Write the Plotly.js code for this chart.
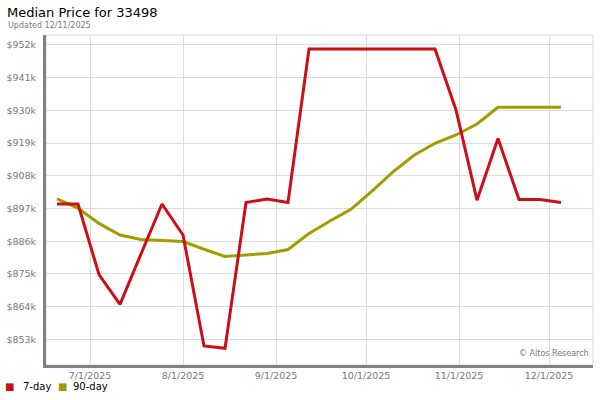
<!DOCTYPE html>
<html>
<head>
<meta charset="utf-8">
<script src="https://cdn.plot.ly/plotly-3.0.1.min.js"></script>
<style>html,body{margin:0;padding:0;background:#fff;}#chart{width:600px;height:400px;}</style>
</head>
<body>
<div id="chart"></div>
<script>
// Weekly dates (Fridays)
const dates = ["2025-06-20","2025-06-27","2025-07-04","2025-07-11","2025-07-18","2025-07-25","2025-08-01","2025-08-08","2025-08-15","2025-08-22","2025-08-29","2025-09-05","2025-09-12","2025-09-19","2025-09-26","2025-10-03","2025-10-10","2025-10-17","2025-10-24","2025-10-31","2025-11-07","2025-11-14","2025-11-21","2025-11-28","2025-12-05"];
// 7-day median price
const sevenDay = [898500,898500,874800,864800,881700,898500,888100,850800,850000,899000,900200,899000,950600,950600,950600,950600,950600,950600,950600,930100,899800,920500,900000,900000,899000];
// 90-day median price
const ninetyDay = [900200,897100,892000,888100,886600,886300,885900,883300,880900,881400,881900,883200,888600,892800,896700,902800,909300,914900,918900,921700,925400,931000,931000,931000,931000];
// Axis ticks
const yTickVals = [853000,864000,875000,886000,897000,908000,919000,930000,941000,952000];
const yTickText = ["$853k","$864k","$875k","$886k","$897k","$908k","$919k","$930k","$941k","$952k"];
const xTickVals = ["2025-07-01","2025-08-01","2025-09-01","2025-10-01","2025-11-01","2025-12-01"];
const xTickText = ["7/1/2025","8/1/2025","9/1/2025","10/1/2025","11/1/2025","12/1/2025"];
const seriesNames = ["7-day", "90-day"];

const red = "#cc0f15";
const olive = "#a39c00";

const traces = [
  {x: dates, y: ninetyDay, type: "scatter", mode: "lines", name: seriesNames[1], line: {color: olive, width: 3}, showlegend: false, hoverinfo: "skip"},
  {x: dates, y: sevenDay, type: "scatter", mode: "lines", name: seriesNames[0], line: {color: red, width: 3}, showlegend: false, hoverinfo: "skip"}
];

// plot area: left 46, right 593, top 35, bottom 365
const PL = 46, PW = 547, PT = 35, PH = 330;
const px = v => (v - PL) / PW;
const py = v => (PT + PH - v) / PH;

const layout = {
  width: 600, height: 400,
  margin: {l: 46, r: 7, t: 35, b: 35, autoexpand: false},
  paper_bgcolor: "#fff", plot_bgcolor: "#fff",
  showlegend: false,
  font: {family: "DejaVu Sans", size: 10, color: "#000"},
  title: {text: "Median Price for 33498", xref: "container", yref: "container", x: 7/600, xanchor: "left", y: 1 - 12/400, yanchor: "middle", font: {family: "DejaVu Sans", size: 13, color: "#000"}},
  xaxis: {
    type: "date",
    range: ["2025-06-16 08:00", "2025-12-15 16:00"],
    tickvals: xTickVals, ticktext: xTickText,
    tickfont: {family: "DejaVu Sans", size: 9.5, color: "#777"},
    showgrid: true, gridcolor: "#dcdcdc", gridwidth: 1,
    showline: true, linecolor: "#808080", linewidth: 3,
    ticks: "",
    zeroline: false, fixedrange: true
  },
  yaxis: {
    range: [844400, 955300],
    tickvals: yTickVals, ticktext: yTickText,
    tickfont: {family: "DejaVu Sans", size: 9.5, color: "#777"},
    showgrid: true, gridcolor: "#dcdcdc", gridwidth: 1,
    showline: true, linecolor: "#808080", linewidth: 3,
    ticks: "outside", ticklen: 5, tickcolor: "rgba(0,0,0,0)",
    zeroline: false, fixedrange: true
  },
  shapes: [
    {type: "rect", xref: "paper", yref: "paper", x0: 0, x1: 1, y0: 0, y1: 1, line: {color: "#d8d8d8", width: 1}, layer: "below"}
  ],
  annotations: [
    {text: "Updated 12/11/2025", xref: "paper", yref: "paper", x: px(6), y: py(25), xanchor: "left", yanchor: "middle", showarrow: false, font: {family: "DejaVu Sans", size: 8, color: "#777"}},
    {text: "© Altos Research", xref: "paper", yref: "paper", x: px(591), y: py(353), xanchor: "right", yanchor: "middle", showarrow: false, font: {family: "DejaVu Sans", size: 8, color: "#777"}},
    {text: "■", xref: "paper", yref: "paper", x: px(3), y: py(386), xanchor: "left", yanchor: "middle", showarrow: false, font: {family: "DejaVu Sans", size: 10, color: red}},
    {text: seriesNames[0], xref: "paper", yref: "paper", x: px(21), y: py(386), xanchor: "left", yanchor: "middle", showarrow: false, font: {family: "DejaVu Sans", size: 10, color: "#000"}},
    {text: "■", xref: "paper", yref: "paper", x: px(56), y: py(386), xanchor: "left", yanchor: "middle", showarrow: false, font: {family: "DejaVu Sans", size: 10, color: olive}},
    {text: seriesNames[1], xref: "paper", yref: "paper", x: px(71), y: py(386), xanchor: "left", yanchor: "middle", showarrow: false, font: {family: "DejaVu Sans", size: 10, color: "#000"}}
  ]
};

Plotly.newPlot("chart", traces, layout, {displayModeBar: false, staticPlot: true});
</script>
</body>
</html>
